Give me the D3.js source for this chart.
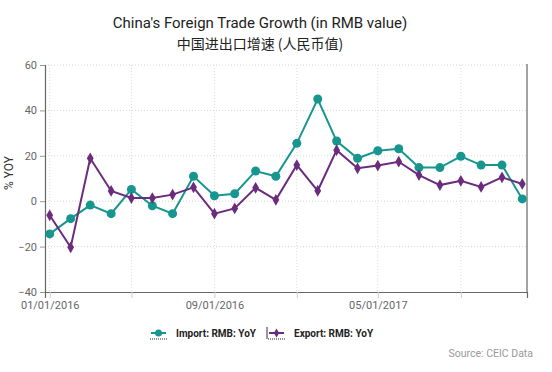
<!DOCTYPE html>
<html>
<head>
<meta charset="utf-8">
<script src="https://cdn.jsdelivr.net/npm/d3@7"></script>
<style>
  body { margin: 0; background: #fff; font-family: Roboto, "Noto Sans CJK SC", sans-serif; }
</style>
</head>
<body>
<div id="chart"></div>
<script>
// data (monthly, % YoY)
var months = ["2016-01","2016-02","2016-03","2016-04","2016-05","2016-06","2016-07","2016-08","2016-09","2016-10","2016-11","2016-12",
              "2017-01","2017-02","2017-03","2017-04","2017-05","2017-06","2017-07","2017-08","2017-09","2017-10","2017-11","2017-12"];
var importYoY = [-14.4, -7.7, -1.7, -5.5, 5.2, -2.0, -5.5, 11.0, 2.4, 3.3, 13.3, 11.0,
                 25.5, 45.0, 26.5, 18.9, 22.2, 23.1, 14.8, 14.8, 19.8, 15.9, 15.9, 1.0];
var exportYoY = [-6.2, -20.3, 18.9, 4.5, 1.4, 1.4, 2.9, 6.1, -5.5, -3.2, 5.9, 0.6,
                 15.9, 4.6, 22.5, 14.5, 15.7, 17.4, 11.5, 7.1, 9.0, 6.3, 10.5, 7.6];
var yTicks = [-40, -20, 0, 20, 40, 60];
var xTickDates = ["2016-01","2016-05","2016-09","2017-01","2017-05","2017-09"];
var xTickLabels = ["01/01/2016", "", "09/01/2016", "", "05/01/2017", ""];

var importColour = "#17968f";
var exportColour = "#6b2c7d";

var w = 552, h = 372;
// plot box (note: "top" is taken by window.top)
var plotL = 45, plotR = 527, plotT = 65, plotB = 292;

var parse = d3.timeParse("%Y-%m");
var dates = months.map(parse);

var svg = d3.select("#chart").append("svg")
  .attr("width", w)
  .attr("height", h);

var xScale = d3.scaleTime()
  .domain([new Date(2015, 11, 25), new Date(2017, 11, 8)])
  .range([plotL, plotR]);

var yScale = d3.scaleLinear()
  .domain([-40, 60])
  .range([plotB, plotT]);

// grid
svg.append("g").selectAll("line")
  .data(yTicks.filter(function (d) { return d > -40; }))
  .enter().append("line")
  .attr("x1", plotL).attr("x2", plotR)
  .attr("y1", function (d) { return yScale(d); })
  .attr("y2", function (d) { return yScale(d); })
  .attr("stroke", "#d6d6d6")
  .attr("stroke-dasharray", "1,2");

svg.append("g").selectAll("line")
  .data(xTickDates.map(parse))
  .enter().append("line")
  .attr("x1", function (d) { return xScale(d); })
  .attr("x2", function (d) { return xScale(d); })
  .attr("y1", plotT).attr("y2", plotB)
  .attr("stroke", "#dcdcdc")
  .attr("stroke-dasharray", "1,2");

// axes
var yAxis = d3.axisLeft(yScale).tickValues(yTicks).tickSize(5).tickPadding(3);
var gy = svg.append("g").attr("transform", "translate(" + plotL + ",0)").call(yAxis);

var xAxis = d3.axisBottom(xScale)
  .tickValues(xTickDates.map(parse))
  .tickFormat(function (d, i) { return xTickLabels[i]; })
  .tickSize(6).tickPadding(3);
var gx = svg.append("g").attr("transform", "translate(0," + plotB + ")").call(xAxis);

[gx, gy].forEach(function (g) {
  g.select(".domain").attr("stroke", "#666").attr("stroke-width", 1.2);
  g.selectAll(".tick line").attr("stroke", "#999");
  g.selectAll("text").attr("fill", "#666").style("font-size", "11px").style("font-family", "Roboto");
});
gx.selectAll(".tick line").attr("stroke", "#ccc");

// right border
svg.append("line")
  .attr("x1", plotR).attr("x2", plotR)
  .attr("y1", plotT - 1).attr("y2", plotB)
  .attr("stroke", "#666").attr("stroke-width", 1.2);

// y label
svg.append("text")
  .attr("transform", "translate(13,173) rotate(-90)")
  .attr("text-anchor", "middle")
  .style("font-size", "12px")
  .attr("fill", "#333")
  .text("% YOY");

// lines
var line = d3.line()
  .x(function (d, i) { return xScale(dates[i]); })
  .y(function (d) { return yScale(d); });

svg.append("path").datum(importYoY)
  .attr("d", line).attr("fill", "none")
  .attr("stroke", importColour).attr("stroke-width", 2);

svg.append("path").datum(exportYoY)
  .attr("d", line).attr("fill", "none")
  .attr("stroke", exportColour).attr("stroke-width", 2);

svg.append("g").selectAll("circle")
  .data(importYoY)
  .enter().append("circle")
  .attr("cx", function (d, i) { return xScale(dates[i]); })
  .attr("cy", function (d) { return yScale(d); })
  .attr("r", 4.5)
  .attr("fill", importColour);

var diamond = d3.symbol().type(d3.symbolDiamond).size(40);
svg.append("g").selectAll("path")
  .data(exportYoY)
  .enter().append("path")
  .attr("d", diamond)
  .attr("transform", function (d, i) { return "translate(" + xScale(dates[i]) + "," + yScale(d) + ")"; })
  .attr("fill", exportColour);

// titles
svg.append("text")
  .attr("x", 260).attr("y", 28)
  .attr("text-anchor", "middle")
  .style("font-size", "15px")
  .attr("fill", "#222")
  .text("China's Foreign Trade Growth (in RMB value)");

svg.append("text")
  .attr("x", 260).attr("y", 49)
  .attr("text-anchor", "middle")
  .style("font-size", "14px")
  .style("font-family", "'Noto Sans CJK SC', Roboto, sans-serif")
  .attr("fill", "#222")
  .text("中国进出口增速 (人民币值)");

// legend
var legend = [
  { name: "Import: RMB: YoY", colour: importColour, shape: "circle", x: 151 },
  { name: "Export: RMB: YoY", colour: exportColour, shape: "diamond", x: 269 }
];
var ly = 333;
legend.forEach(function (l) {
  var g = svg.append("g");
  g.append("line")
    .attr("x1", l.x).attr("x2", l.x + 15)
    .attr("y1", ly).attr("y2", ly)
    .attr("stroke", l.colour).attr("stroke-width", 2);
  if (l.shape == "circle") {
    g.append("circle").attr("cx", l.x + 7.5).attr("cy", ly).attr("r", 3.5).attr("fill", l.colour);
  } else {
    g.append("path").attr("d", d3.symbol().type(d3.symbolDiamond).size(24))
      .attr("transform", "translate(" + (l.x + 7.5) + "," + ly + ")").attr("fill", l.colour);
  }
  g.append("line")
    .attr("x1", l.x - 1).attr("x2", l.x + 17)
    .attr("y1", ly + 6).attr("y2", ly + 6)
    .attr("stroke", "#222").attr("stroke-width", 1)
    .attr("stroke-dasharray", "1,1");
  g.append("text")
    .attr("x", l.x + 25).attr("y", ly + 4)
    .style("font-size", "10px")
    .style("font-weight", "bold")
    .attr("fill", "#222")
    .text(l.name);
});
// separator before export entry
svg.append("line")
  .attr("x1", 267).attr("x2", 267)
  .attr("y1", ly - 6).attr("y2", ly + 6)
  .attr("stroke", "#333").attr("stroke-width", 1);

svg.append("text")
  .attr("x", 533).attr("y", 357)
  .attr("text-anchor", "end")
  .style("font-size", "10.5px")
  .attr("fill", "#999")
  .text("Source: CEIC Data");
</script>
</body>
</html>
